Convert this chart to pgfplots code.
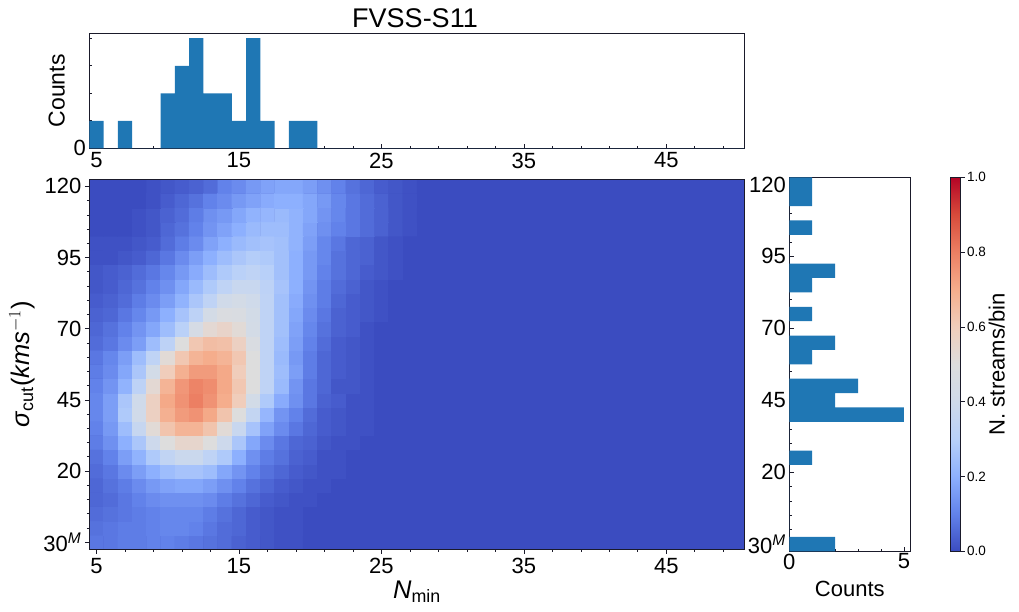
\documentclass[border=0pt]{standalone}
\usepackage{amsmath}
\usepackage{fontspec}
\usepackage{pgfplots}
\pgfplotsset{compat=1.18}
\setmainfont{Liberation Sans}
\definecolor{histblue}{HTML}{1F77B4}
\definecolor{frame}{HTML}{1A1A2A}
\definecolor{cwlow}{RGB}{59,76,192}
\newcommand{\tickfont}{\fontsize{22}{25}\selectfont}
\newcommand{\labfont}{\fontsize{22}{25}\selectfont}
\newcommand{\mathlabfont}{\fontsize{25.5}{28}\selectfont}
\pgfplotsset{
  colormap={coolwarm}{rgb255=(59,76,192) rgb255=(98,130,234) rgb255=(141,176,254)
    rgb255=(184,208,249) rgb255=(207,218,234) rgb255=(221,221,221) rgb255=(240,205,187)
    rgb255=(245,173,140) rgb255=(236,127,99) rgb255=(215,75,59) rgb255=(180,4,38)},
  every axis/.append style={
    scale only axis,
    axis line style={frame,line width=0.9pt},
    tick style={frame,line width=0.7pt},
    major tick length=4.5pt,
    minor tick length=2.5pt,
    tick label style={font=\tickfont},
    label style={font=\labfont},
    xtick pos=bottom,
    ytick pos=left,
  },
}
\begin{document}
\begin{tikzpicture}[x=1pt,y=1pt]
\useasboundingbox (0,0) rectangle (1019,612);

% top histogram
\begin{axis}[
  at={(89.3pt,463.7pt)},anchor=south west,
  width=655.4pt,height=115pt,
  xmin=4.5,xmax=50.5,ymin=0,ymax=4.18,
  tick align=inside,
  xtick={5,15,25,35,45},xticklabels={5,15,25,35,45},
  minor xtick={7,9,11,13,17,19,21,23,27,29,31,33,37,39,41,43,47,49},
  ytick={0},yticklabels={0},minor ytick={1,2,3,4},
  xticklabel style={yshift=-1pt},
  ylabel={Counts},
  ylabel style={font=\fontsize{23}{26}\selectfont,at={(axis description cs:-0.032,0.5)},anchor=south},
  title={FVSS-S11},
  title style={font=\fontsize{27}{30}\selectfont,at={(axis description cs:0.5,1)},anchor=south,yshift=-4pt,xshift=-2pt},
]
\addplot[ybar interval,fill=histblue,draw=none] coordinates {
(4.5,1)(5.5,0)(6.5,1)(7.5,0)(8.5,0)(9.5,2)(10.5,3)(11.5,4)(12.5,2)(13.5,2)
(14.5,1)(15.5,4)(16.5,1)(17.5,0)(18.5,1)(19.5,1)(20.5,0)(21.5,0)(22.5,0)(23.5,0)
(24.5,0)(50.5,0)};
\end{axis}

% main density map, the colour bar hangs off this one
\begin{axis}[
  at={(89.3pt,62.7pt)},anchor=south west,
  width=655.4pt,height=370pt,
  xmin=4.5,xmax=50.5,ymin=-7.5,ymax=122.5,
  y dir=normal,
  axis background/.style={fill=cwlow},
  tick align=outside,
  axis on top,
  xtick={5,15,25,35,45},xticklabels={5,15,25,35,45},
  minor xtick={7,9,11,13,17,19,21,23,27,29,31,33,37,39,41,43,47,49},
  ytick={-5,20,45,70,95,120},
  yticklabels={30\textsuperscript{\itshape M},20,45,70,95,120},
  minor ytick={0,5,10,15,25,30,35,40,50,55,60,65,75,80,85,90,100,105,110,115},
  xticklabel style={yshift=-1pt},
  xlabel={\textit{N}$_{\text{min}}$},
  ylabel={\textit{σ}$_{\text{cut}}$(\textit{kms}$^{-1}$)},
  xlabel style={font=\mathlabfont,at={(axis description cs:0.5,-0.075)},anchor=north},
  ylabel style={font=\mathlabfont,at={(axis description cs:-0.078,0.5)},anchor=south},
  colormap name=coolwarm,
  point meta min=0,point meta max=1,
  colorbar,
  colorbar style={
    at={(parent axis.south east)},anchor=south west,
    xshift=197pt,yshift=-2pt,
    width=10.4pt,height=374pt,
    ytick={0,0.2,0.4,0.6,0.8,1},
    yticklabels={0.0,0.2,0.4,0.6,0.8,1.0},
    minor ytick={},
    tick align=outside,
    ytick pos=right,
    major tick length=4pt,
    yticklabel style={font=\fontsize{13.5}{16}\selectfont,xshift=-1pt},
    ylabel={N. streams/bin},
    ylabel style={font=\labfont,at={(axis description cs:5.6,0.5)},anchor=south,rotate=0},
  },
]
% one row per sigma bin, bottom to top: columns 5-14, 15-24, 25-30, then 31-50 (all zero)
\addplot[matrix plot*,mesh/cols=46,point meta=explicit] table[row sep=\\,header=false,
  x expr={mod(\coordindex,46)+5},y expr={floor((\coordindex+0.5)/46)*5-5},meta index=0] {
0.08\\0.08\\0.09\\0.09\\0.10\\0.10\\0.09\\0.08\\0.07\\0.06\\
0.04\\0.03\\0.02\\0.01\\0.01\\0\\0\\0\\0\\0\\
0\\0\\0\\0\\0\\0\\
0\\0\\0\\0\\0\\0\\0\\0\\0\\0\\0\\0\\0\\0\\0\\0\\0\\0\\0\\0\\
0.07\\0.08\\0.09\\0.09\\0.10\\0.11\\0.11\\0.10\\0.08\\0.06\\
0.05\\0.03\\0.02\\0.01\\0.01\\0\\0\\0\\0\\0\\
0\\0\\0\\0\\0\\0\\
0\\0\\0\\0\\0\\0\\0\\0\\0\\0\\0\\0\\0\\0\\0\\0\\0\\0\\0\\0\\
0.06\\0.07\\0.08\\0.09\\0.10\\0.11\\0.11\\0.11\\0.09\\0.07\\
0.05\\0.03\\0.02\\0.01\\0.01\\0\\0\\0\\0\\0\\
0\\0\\0\\0\\0\\0\\
0\\0\\0\\0\\0\\0\\0\\0\\0\\0\\0\\0\\0\\0\\0\\0\\0\\0\\0\\0\\
0.05\\0.06\\0.08\\0.10\\0.12\\0.13\\0.13\\0.13\\0.12\\0.09\\
0.07\\0.05\\0.03\\0.02\\0.01\\0.01\\0\\0\\0\\0\\
0\\0\\0\\0\\0\\0\\
0\\0\\0\\0\\0\\0\\0\\0\\0\\0\\0\\0\\0\\0\\0\\0\\0\\0\\0\\0\\
0.05\\0.07\\0.09\\0.12\\0.15\\0.17\\0.18\\0.18\\0.16\\0.13\\
0.10\\0.07\\0.05\\0.03\\0.02\\0.01\\0.01\\0\\0\\0\\
0\\0\\0\\0\\0\\0\\
0\\0\\0\\0\\0\\0\\0\\0\\0\\0\\0\\0\\0\\0\\0\\0\\0\\0\\0\\0\\
0.06\\0.08\\0.12\\0.16\\0.20\\0.24\\0.26\\0.26\\0.24\\0.18\\
0.14\\0.10\\0.07\\0.05\\0.03\\0.02\\0.01\\0.01\\0\\0\\
0\\0\\0\\0\\0\\0\\
0\\0\\0\\0\\0\\0\\0\\0\\0\\0\\0\\0\\0\\0\\0\\0\\0\\0\\0\\0\\
0.07\\0.10\\0.16\\0.21\\0.28\\0.34\\0.38\\0.38\\0.33\\0.28\\
0.20\\0.13\\0.09\\0.07\\0.04\\0.03\\0.01\\0.01\\0\\0\\
0\\0\\0\\0\\0\\0\\
0\\0\\0\\0\\0\\0\\0\\0\\0\\0\\0\\0\\0\\0\\0\\0\\0\\0\\0\\0\\
0.09\\0.13\\0.20\\0.27\\0.39\\0.50\\0.55\\0.55\\0.50\\0.39\\
0.27\\0.18\\0.12\\0.08\\0.05\\0.04\\0.02\\0.01\\0.01\\0\\
0\\0\\0\\0\\0\\0\\
0\\0\\0\\0\\0\\0\\0\\0\\0\\0\\0\\0\\0\\0\\0\\0\\0\\0\\0\\0\\
0.10\\0.15\\0.24\\0.36\\0.52\\0.63\\0.68\\0.68\\0.63\\0.52\\
0.37\\0.26\\0.17\\0.12\\0.08\\0.05\\0.03\\0.02\\0.01\\0.01\\
0\\0\\0\\0\\0\\0\\
0\\0\\0\\0\\0\\0\\0\\0\\0\\0\\0\\0\\0\\0\\0\\0\\0\\0\\0\\0\\
0.11\\0.16\\0.28\\0.41\\0.58\\0.69\\0.74\\0.76\\0.71\\0.63\\
0.50\\0.35\\0.22\\0.14\\0.10\\0.06\\0.03\\0.02\\0.01\\0.01\\
0\\0\\0\\0\\0\\0\\
0\\0\\0\\0\\0\\0\\0\\0\\0\\0\\0\\0\\0\\0\\0\\0\\0\\0\\0\\0\\
0.11\\0.16\\0.27\\0.40\\0.58\\0.71\\0.76\\0.80\\0.76\\0.70\\
0.60\\0.42\\0.28\\0.19\\0.13\\0.08\\0.04\\0.03\\0.01\\0.01\\
0\\0\\0\\0\\0\\0\\
0\\0\\0\\0\\0\\0\\0\\0\\0\\0\\0\\0\\0\\0\\0\\0\\0\\0\\0\\0\\
0.10\\0.14\\0.21\\0.32\\0.53\\0.68\\0.75\\0.79\\0.77\\0.71\\
0.62\\0.50\\0.33\\0.23\\0.14\\0.08\\0.05\\0.02\\0.02\\0.01\\
0\\0\\0\\0\\0\\0\\
0\\0\\0\\0\\0\\0\\0\\0\\0\\0\\0\\0\\0\\0\\0\\0\\0\\0\\0\\0\\
0.09\\0.12\\0.18\\0.27\\0.42\\0.60\\0.69\\0.74\\0.74\\0.71\\
0.60\\0.50\\0.33\\0.24\\0.16\\0.09\\0.05\\0.03\\0.02\\0.01\\
0\\0\\0\\0\\0\\0\\
0\\0\\0\\0\\0\\0\\0\\0\\0\\0\\0\\0\\0\\0\\0\\0\\0\\0\\0\\0\\
0.08\\0.11\\0.16\\0.24\\0.33\\0.52\\0.62\\0.68\\0.70\\0.68\\
0.62\\0.50\\0.33\\0.23\\0.15\\0.09\\0.05\\0.03\\0.02\\0.01\\
0\\0\\0\\0\\0\\0\\
0\\0\\0\\0\\0\\0\\0\\0\\0\\0\\0\\0\\0\\0\\0\\0\\0\\0\\0\\0\\
0.06\\0.08\\0.12\\0.16\\0.24\\0.32\\0.50\\0.62\\0.65\\0.64\\
0.58\\0.47\\0.33\\0.24\\0.16\\0.10\\0.06\\0.03\\0.02\\0.01\\
0\\0\\0\\0\\0\\0\\
0\\0\\0\\0\\0\\0\\0\\0\\0\\0\\0\\0\\0\\0\\0\\0\\0\\0\\0\\0\\
0.05\\0.07\\0.10\\0.14\\0.18\\0.24\\0.31\\0.44\\0.53\\0.56\\
0.52\\0.43\\0.33\\0.25\\0.17\\0.11\\0.07\\0.04\\0.03\\0.01\\
0\\0\\0\\0\\0\\0\\
0\\0\\0\\0\\0\\0\\0\\0\\0\\0\\0\\0\\0\\0\\0\\0\\0\\0\\0\\0\\
0.04\\0.05\\0.08\\0.11\\0.15\\0.20\\0.26\\0.32\\0.43\\0.48\\
0.47\\0.42\\0.33\\0.25\\0.18\\0.12\\0.08\\0.04\\0.03\\0.02\\
0.01\\0\\0\\0\\0\\0\\
0\\0\\0\\0\\0\\0\\0\\0\\0\\0\\0\\0\\0\\0\\0\\0\\0\\0\\0\\0\\
0.03\\0.04\\0.06\\0.09\\0.12\\0.16\\0.21\\0.27\\0.33\\0.41\\
0.43\\0.40\\0.33\\0.25\\0.19\\0.13\\0.09\\0.05\\0.03\\0.02\\
0.01\\0\\0\\0\\0\\0\\
0\\0\\0\\0\\0\\0\\0\\0\\0\\0\\0\\0\\0\\0\\0\\0\\0\\0\\0\\0\\
0.02\\0.03\\0.05\\0.07\\0.10\\0.13\\0.18\\0.23\\0.28\\0.33\\
0.37\\0.37\\0.32\\0.26\\0.20\\0.14\\0.09\\0.06\\0.04\\0.02\\
0.01\\0\\0\\0\\0\\0\\
0\\0\\0\\0\\0\\0\\0\\0\\0\\0\\0\\0\\0\\0\\0\\0\\0\\0\\0\\0\\
0.02\\0.03\\0.04\\0.06\\0.08\\0.11\\0.15\\0.19\\0.24\\0.28\\
0.31\\0.33\\0.30\\0.25\\0.20\\0.15\\0.10\\0.07\\0.05\\0.03\\
0.02\\0.01\\0\\0\\0\\0\\
0\\0\\0\\0\\0\\0\\0\\0\\0\\0\\0\\0\\0\\0\\0\\0\\0\\0\\0\\0\\
0.01\\0.01\\0.02\\0.03\\0.05\\0.08\\0.12\\0.16\\0.20\\0.24\\
0.27\\0.29\\0.28\\0.25\\0.20\\0.15\\0.11\\0.07\\0.05\\0.04\\
0.02\\0.01\\0\\0\\0\\0\\
0\\0\\0\\0\\0\\0\\0\\0\\0\\0\\0\\0\\0\\0\\0\\0\\0\\0\\0\\0\\
0.01\\0.01\\0.01\\0.02\\0.03\\0.06\\0.09\\0.12\\0.17\\0.20\\
0.23\\0.25\\0.26\\0.25\\0.21\\0.16\\0.11\\0.08\\0.05\\0.04\\
0.02\\0.01\\0\\0\\0\\0\\
0\\0\\0\\0\\0\\0\\0\\0\\0\\0\\0\\0\\0\\0\\0\\0\\0\\0\\0\\0\\
0\\0\\0\\0.01\\0.02\\0.05\\0.07\\0.10\\0.14\\0.17\\
0.20\\0.23\\0.24\\0.24\\0.21\\0.17\\0.13\\0.10\\0.08\\0.06\\
0.04\\0.02\\0.01\\0\\0\\0\\
0\\0\\0\\0\\0\\0\\0\\0\\0\\0\\0\\0\\0\\0\\0\\0\\0\\0\\0\\0\\
0\\0\\0\\0.01\\0.02\\0.04\\0.06\\0.09\\0.13\\0.15\\
0.18\\0.21\\0.22\\0.23\\0.21\\0.18\\0.14\\0.11\\0.08\\0.06\\
0.04\\0.02\\0.01\\0\\0\\0\\
0\\0\\0\\0\\0\\0\\0\\0\\0\\0\\0\\0\\0\\0\\0\\0\\0\\0\\0\\0\\
0\\0\\0\\0\\0.01\\0.03\\0.05\\0.07\\0.10\\0.12\\
0.15\\0.17\\0.19\\0.20\\0.20\\0.18\\0.15\\0.11\\0.08\\0.06\\
0.04\\0.02\\0.01\\0\\0\\0\\
0\\0\\0\\0\\0\\0\\0\\0\\0\\0\\0\\0\\0\\0\\0\\0\\0\\0\\0\\0\\
0\\0\\0\\0\\0.01\\0.02\\0.03\\0.04\\0.06\\0.10\\
0.12\\0.15\\0.17\\0.18\\0.18\\0.16\\0.13\\0.10\\0.07\\0.05\\
0.03\\0.02\\0.01\\0\\0\\0\\
0\\0\\0\\0\\0\\0\\0\\0\\0\\0\\0\\0\\0\\0\\0\\0\\0\\0\\0\\0\\
};
\end{axis}

% right histogram
\begin{axis}[
  at={(789.3pt,60.7pt)},anchor=south west,
  width=121pt,height=374pt,
  xmin=0,xmax=5.28,ymin=-7.5,ymax=122.5,
  tick align=inside,
  xtick={0,5},xticklabels={0,5},minor xtick={1,2,3,4},
  ytick={-5,20,45,70,95,120},
  yticklabels={30\textsuperscript{\itshape M},20,45,70,95,120},
  minor ytick={0,5,10,15,25,30,35,40,50,55,60,65,75,80,85,90,100,105,110,115},
  xlabel={Counts},
  xticklabel style={yshift=1pt},
  xlabel style={at={(axis description cs:0.5,-0.07)},anchor=north},
]
\addplot[xbar interval,fill=histblue,draw=none] coordinates {
(2,-7.5)(0,-2.5)(0,2.5)(0,7.5)(0,12.5)(0,17.5)(1,22.5)(0,27.5)(0,32.5)(0,37.5)
(5,37.5)(2,42.5)(3,47.5)(0,52.5)(1,57.5)(2,62.5)(0,67.5)(1,72.5)(0,77.5)(1,82.5)
(2,87.5)(0,92.5)(0,97.5)(1,102.5)(0,107.5)(1,112.5)(1,117.5)(1,122.5)};
\end{axis}
\end{tikzpicture}
\end{document}
